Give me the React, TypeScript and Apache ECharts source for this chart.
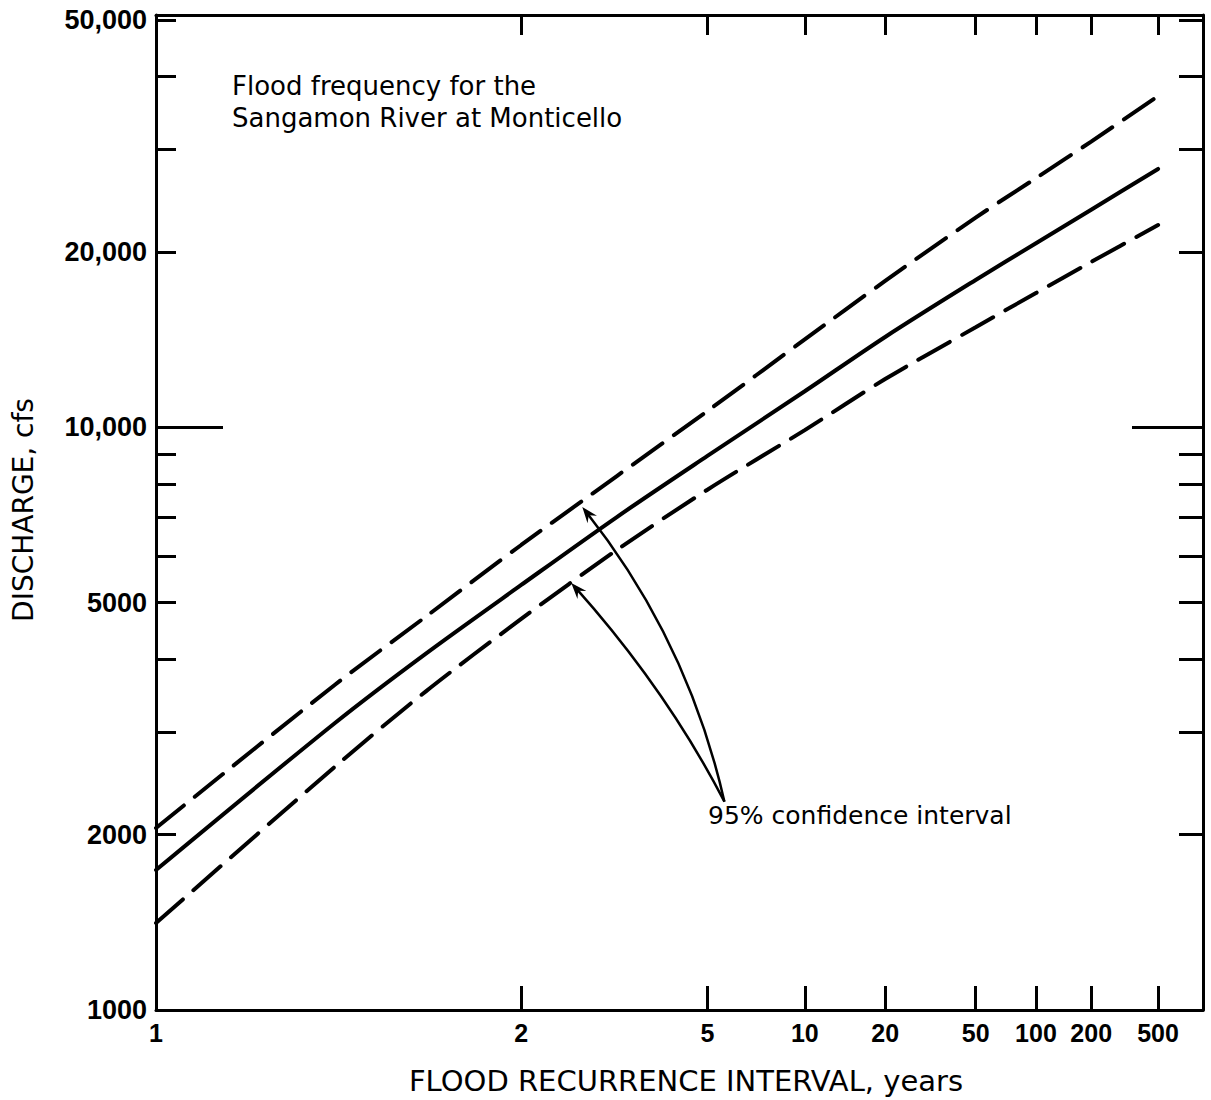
import React, { useEffect, useRef } from 'react';
import * as echarts from 'echarts';

// Recurrence intervals (years) at which the three curves were read
const recurrenceYears = [1.052, 1.25, 1.5, 2, 3, 5, 10, 20, 50, 100, 200, 500];
// Discharge, cfs
const dischargeMedian = [1739, 3109, 4090, 5363, 7008, 8930, 11530, 14290, 17900, 20700, 23630, 27760];
const dischargeUpper95 = [2053, 3616, 4733, 6281, 8240, 10665, 14150, 17830, 22900, 26770, 30930, 37030];
const dischargeLower95 = [1410, 2616, 3523, 4689, 6153, 7815, 9890, 12100, 14850, 17000, 19220, 22240];

// X axis (normal probability scale of recurrence interval)
const xRangeYears = [1.052, 970];
const xTickYears = [2, 5, 10, 20, 50, 100, 200, 500];
const xLabelYears = [1.052, 2, 5, 10, 20, 50, 100, 200, 500];
const xTickLabels = ['1', '2', '5', '10', '20', '50', '100', '200', '500'];

// Y axis (log scale of discharge)
const yRange = [1000, 51000];
const yMinorTicks = [2000, 3000, 4000, 5000, 6000, 7000, 8000, 9000, 20000, 30000, 40000, 50000];
const yMajorTicks = [10000];
const yLabelValues = [1000, 2000, 5000, 10000, 20000, 50000];
const yTickLabels = ['1000', '2000', '5000', '10,000', '20,000', '50,000'];

// Annotation arrows ("95% confidence interval")
const arrowTipYears = [2.556, 2.436];
const arrowTipQ = [7299, 5406];
const arrowBendYears = [4.43, 3.903];
const arrowBendQ = [4310, 3552];
const arrowOriginYears = 5.58;
const arrowOriginQ = 2278;

function normInv(p: number): number {
  const a = [-3.969683028665376e1, 2.209460984245205e2, -2.759285104469687e2, 1.38357751867269e2, -3.066479806614716e1, 2.506628277459239];
  const b = [-5.447609879822406e1, 1.615858368580409e2, -1.556989798598866e2, 6.680131188771972e1, -1.328068155288572e1];
  const c = [-7.784894002430293e-3, -3.223964580411365e-1, -2.400758277161838, -2.549671435167208, 4.374664141464968, 2.938163982698783];
  const d = [7.784695709041462e-3, 3.224671290700398e-1, 2.445134137142996, 3.754408661907416];
  const pl = 0.02425;
  const ph = 1 - pl;
  let q: number;
  let r: number;
  if (p < pl) {
    q = Math.sqrt(-2 * Math.log(p));
    return (((((c[0] * q + c[1]) * q + c[2]) * q + c[3]) * q + c[4]) * q + c[5]) / ((((d[0] * q + d[1]) * q + d[2]) * q + d[3]) * q + 1);
  }
  if (p <= ph) {
    q = p - 0.5;
    r = q * q;
    return ((((((a[0] * r + a[1]) * r + a[2]) * r + a[3]) * r + a[4]) * r + a[5]) * q) / (((((b[0] * r + b[1]) * r + b[2]) * r + b[3]) * r + b[4]) * r + 1);
  }
  q = Math.sqrt(-2 * Math.log(1 - p));
  return -(((((c[0] * q + c[1]) * q + c[2]) * q + c[3]) * q + c[4]) * q + c[5]) / ((((d[0] * q + d[1]) * q + d[2]) * q + d[3]) * q + 1);
}

const zOf = (T: number) => normInv(1 - 1 / T);
const lg = (v: number) => Math.log10(v);

const nearestLabel = (v: number, values: number[], labels: string[]) => {
  let best = 0;
  let bd = Infinity;
  values.forEach((u, i) => {
    const dd = Math.abs(u - v);
    if (dd < bd) {
      bd = dd;
      best = i;
    }
  });
  return labels[best];
};

export default function App() {
  const ref = useRef<HTMLDivElement>(null);

  useEffect(() => {
    if (!ref.current) return;
    const chart = echarts.init(ref.current, null, { renderer: 'svg' });

    const xMin = zOf(xRangeYears[0]);
    const xMax = zOf(xRangeYears[1]);
    const yMin = lg(yRange[0]);
    const yMax = lg(yRange[1]);
    const xTickZ = xTickYears.map(zOf);
    const xLabelZ = xLabelYears.map(zOf);
    const yMinorLog = yMinorTicks.map(lg);
    const yMajorLog = yMajorTicks.map(lg);
    const yLabelLog = yLabelValues.map(lg);

    const black = '#000';
    const axisLineStyle = { color: black, width: 3 };

    const baseX = {
      type: 'value',
      min: xMin,
      max: xMax,
      splitLine: { show: false },
    };
    const baseY = {
      type: 'value',
      min: yMin,
      max: yMax,
      splitLine: { show: false },
    };

    const toPts = (qs: number[]) => recurrenceYears.map((T, i) => [zOf(T), lg(qs[i])]);

    const curveStyle = (dashed: boolean) => ({
      color: black,
      width: 4,
      type: dashed ? [36, 14] : 'solid',
      cap: 'round',
    });

    const textFont = 'DejaVu Sans, Liberation Sans, sans-serif';
    const tickFont = 'Liberation Sans, Arial, sans-serif';

    chart.setOption({
      animation: false,
      backgroundColor: '#fff',
      grid: { left: 156, right: 8, top: 15, bottom: 90, containLabel: false },
      xAxis: [
        {
          ...baseX,
          position: 'bottom',
          axisLine: { show: true, onZero: false, lineStyle: axisLineStyle },
          axisTick: { show: true, inside: true, length: 24, lineStyle: axisLineStyle, customValues: xTickZ },
          axisLabel: {
            show: true,
            margin: 10,
            customValues: xLabelZ,
            formatter: (v: number) => nearestLabel(v, xLabelZ, xTickLabels),
            color: black,
            fontFamily: tickFont,
            fontWeight: 'bold',
            fontSize: 25,
            showMinLabel: true,
            showMaxLabel: true,
          },
        },
        {
          ...baseX,
          position: 'top',
          axisLine: { show: true, onZero: false, lineStyle: axisLineStyle },
          axisTick: { show: true, inside: true, length: 20, lineStyle: axisLineStyle, customValues: xTickZ },
          axisLabel: { show: false },
        },
      ],
      yAxis: [
        {
          ...baseY,
          position: 'left',
          axisLine: { show: true, onZero: false, lineStyle: axisLineStyle },
          axisTick: { show: true, inside: true, length: 20, lineStyle: axisLineStyle, customValues: yMinorLog },
          axisLabel: {
            show: true,
            margin: 9,
            customValues: yLabelLog,
            formatter: (v: number) => nearestLabel(v, yLabelLog, yTickLabels),
            color: black,
            fontFamily: tickFont,
            fontWeight: 'bold',
            fontSize: 27,
            showMinLabel: true,
            showMaxLabel: true,
          },
        },
        {
          ...baseY,
          position: 'right',
          axisLine: { show: true, onZero: false, lineStyle: axisLineStyle },
          axisTick: { show: true, inside: true, length: 24, lineStyle: axisLineStyle, customValues: yMinorLog },
          axisLabel: { show: false },
        },
        {
          ...baseY,
          position: 'left',
          axisLine: { show: false, onZero: false },
          axisTick: { show: true, inside: true, length: 67, lineStyle: axisLineStyle, customValues: yMajorLog },
          axisLabel: { show: false },
        },
        {
          ...baseY,
          position: 'right',
          axisLine: { show: false, onZero: false },
          axisTick: { show: true, inside: true, length: 71, lineStyle: axisLineStyle, customValues: yMajorLog },
          axisLabel: { show: false },
        },
      ],
      series: [
        {
          type: 'line',
          name: 'Upper 95% confidence limit',
          data: toPts(dischargeUpper95),
          symbol: 'none',
          showSymbol: false,
          smooth: 0.3,
          silent: true,
          lineStyle: curveStyle(true),
          z: 3,
        },
        {
          type: 'line',
          name: 'Flood frequency',
          data: toPts(dischargeMedian),
          symbol: 'none',
          showSymbol: false,
          smooth: 0.3,
          silent: true,
          lineStyle: curveStyle(false),
          z: 3,
        },
        {
          type: 'line',
          name: 'Lower 95% confidence limit',
          data: toPts(dischargeLower95),
          symbol: 'none',
          showSymbol: false,
          smooth: 0.3,
          silent: true,
          lineStyle: curveStyle(true),
          z: 3,
        },
        {
          type: 'custom',
          name: 'arrows',
          coordinateSystem: 'cartesian2d',
          silent: true,
          clip: false,
          z: 4,
          encode: { x: 0, y: 1 },
          data: arrowTipYears.map((T, i) => [
            zOf(T),
            lg(arrowTipQ[i]),
            zOf(arrowBendYears[i]),
            lg(arrowBendQ[i]),
            zOf(arrowOriginYears),
            lg(arrowOriginQ),
          ]),
          renderItem: (params: any, api: any) => {
            const tip = api.coord([api.value(0), api.value(1)]);
            const ctrl = api.coord([api.value(2), api.value(3)]);
            const end = api.coord([api.value(4), api.value(5)]);
            const dx = tip[0] - ctrl[0];
            const dy = tip[1] - ctrl[1];
            const len = Math.hypot(dx, dy) || 1;
            const ux = dx / len;
            const uy = dy / len;
            const nx = -uy;
            const ny = ux;
            const L = 16;
            const W = 6;
            const points = [
              [tip[0], tip[1]],
              [tip[0] - ux * L + nx * W, tip[1] - uy * L + ny * W],
              [tip[0] - ux * L * 0.65, tip[1] - uy * L * 0.65],
              [tip[0] - ux * L - nx * W, tip[1] - uy * L - ny * W],
            ];
            return {
              type: 'group',
              children: [
                {
                  type: 'bezierCurve',
                  shape: {
                    x1: end[0],
                    y1: end[1],
                    x2: tip[0] - ux * 6,
                    y2: tip[1] - uy * 6,
                    cpx1: ctrl[0],
                    cpy1: ctrl[1],
                  },
                  style: { stroke: black, lineWidth: 2.5, fill: 'none' },
                },
                {
                  type: 'polygon',
                  shape: { points },
                  style: { fill: black },
                },
              ],
            };
          },
        },
      ],
      graphic: [
        {
          type: 'text',
          x: 232,
          y: 86,
          style: { text: 'Flood frequency for the', fontFamily: textFont, fontSize: 26, fill: black, align: 'left', verticalAlign: 'middle' },
        },
        {
          type: 'text',
          x: 232,
          y: 118,
          style: { text: 'Sangamon River at Monticello', fontFamily: textFont, fontSize: 26, fill: black, align: 'left', verticalAlign: 'middle' },
        },
        {
          type: 'text',
          x: 708,
          y: 815,
          style: { text: '95% confidence interval', fontFamily: textFont, fontSize: 25, fill: black, align: 'left', verticalAlign: 'middle' },
        },
        {
          type: 'text',
          x: 686,
          y: 1081,
          style: { text: 'FLOOD RECURRENCE INTERVAL, years', fontFamily: textFont, fontSize: 29, fill: black, align: 'center', verticalAlign: 'middle' },
        },
        {
          type: 'text',
          x: 23,
          y: 510,
          rotation: Math.PI / 2,
          style: { text: 'DISCHARGE, cfs', fontFamily: textFont, fontSize: 28, fill: black, align: 'center', verticalAlign: 'middle' },
        },
      ],
    });

    return () => {
      chart.dispose();
    };
  }, []);

  return (
    <div
      ref={ref}
      style={{ position: 'fixed', left: 0, top: 0, width: 1211, height: 1100, background: '#fff' }}
    />
  );
}
